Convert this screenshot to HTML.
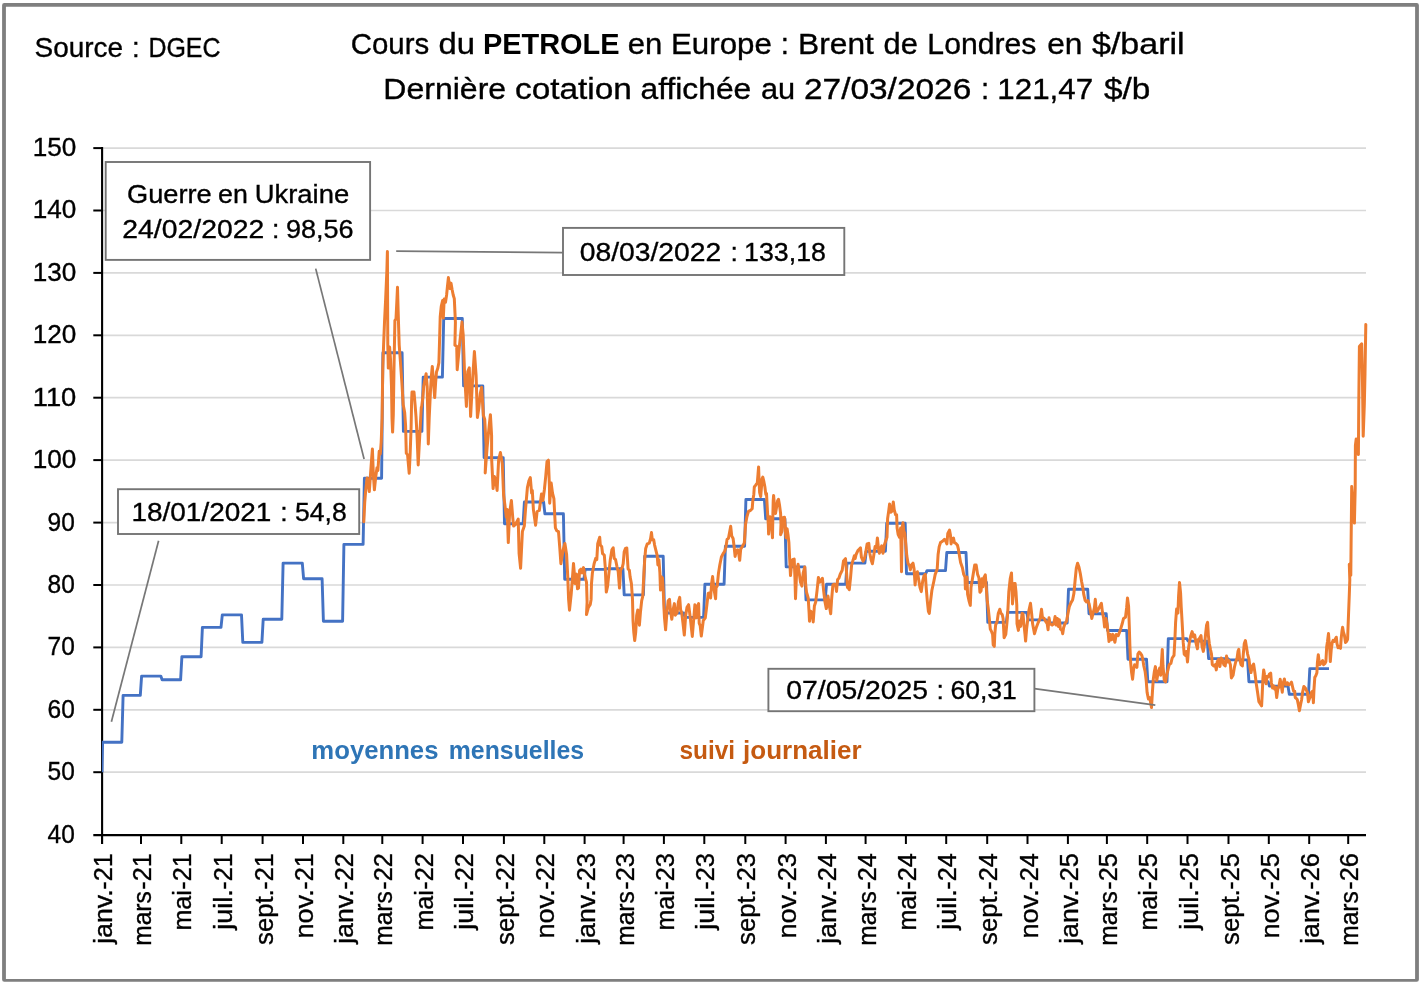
<!DOCTYPE html>
<html lang="fr"><head><meta charset="utf-8"><title>Cours du PETROLE en Europe : Brent de Londres</title>
<style>html,body{margin:0;padding:0;background:#fff;}svg{display:block;}text{font-family:"Liberation Sans",sans-serif;fill:#000;stroke:#000;stroke-width:0.35px;}text[font-weight=bold]{stroke:none;}</style></head><body>
<svg width="1421" height="983" viewBox="0 0 1421 983">
<rect x="0" y="0" width="1421" height="983" fill="#fff"/>
<path fill="#7f7f7f" fill-rule="evenodd" d="M4.3,3 H1416.7 A2.2,2.2 0 0 1 1418.9,5.2 V979.5 A2.2,2.2 0 0 1 1416.7,981.7 H4.3 A2.2,2.2 0 0 1 2.1,979.5 V5.2 A2.2,2.2 0 0 1 4.3,3 Z M5.9,6.8 V979.1 H1415.1 V6.8 Z"/>
<line x1="102" x2="1366" y1="772.2" y2="772.2" stroke="#d9d9d9" stroke-width="1.7"/>
<line x1="102" x2="1366" y1="709.8" y2="709.8" stroke="#d9d9d9" stroke-width="1.7"/>
<line x1="102" x2="1366" y1="647.4" y2="647.4" stroke="#d9d9d9" stroke-width="1.7"/>
<line x1="102" x2="1366" y1="585.0" y2="585.0" stroke="#d9d9d9" stroke-width="1.7"/>
<line x1="102" x2="1366" y1="522.6" y2="522.6" stroke="#d9d9d9" stroke-width="1.7"/>
<line x1="102" x2="1366" y1="460.1" y2="460.1" stroke="#d9d9d9" stroke-width="1.7"/>
<line x1="102" x2="1366" y1="397.7" y2="397.7" stroke="#d9d9d9" stroke-width="1.7"/>
<line x1="102" x2="1366" y1="335.3" y2="335.3" stroke="#d9d9d9" stroke-width="1.7"/>
<line x1="102" x2="1366" y1="272.9" y2="272.9" stroke="#d9d9d9" stroke-width="1.7"/>
<line x1="102" x2="1366" y1="210.5" y2="210.5" stroke="#d9d9d9" stroke-width="1.7"/>
<line x1="102" x2="1366" y1="148.1" y2="148.1" stroke="#d9d9d9" stroke-width="1.7"/>
<line x1="102.1" x2="102.1" y1="147.1" y2="844" stroke="#000" stroke-width="2.1"/>
<line x1="93.3" x2="1366" y1="835.1" y2="835.1" stroke="#000" stroke-width="2.1"/>
<line x1="93.3" x2="102" y1="772.2" y2="772.2" stroke="#000" stroke-width="2"/>
<line x1="93.3" x2="102" y1="709.8" y2="709.8" stroke="#000" stroke-width="2"/>
<line x1="93.3" x2="102" y1="647.4" y2="647.4" stroke="#000" stroke-width="2"/>
<line x1="93.3" x2="102" y1="585.0" y2="585.0" stroke="#000" stroke-width="2"/>
<line x1="93.3" x2="102" y1="522.6" y2="522.6" stroke="#000" stroke-width="2"/>
<line x1="93.3" x2="102" y1="460.1" y2="460.1" stroke="#000" stroke-width="2"/>
<line x1="93.3" x2="102" y1="397.7" y2="397.7" stroke="#000" stroke-width="2"/>
<line x1="93.3" x2="102" y1="335.3" y2="335.3" stroke="#000" stroke-width="2"/>
<line x1="93.3" x2="102" y1="272.9" y2="272.9" stroke="#000" stroke-width="2"/>
<line x1="93.3" x2="102" y1="210.5" y2="210.5" stroke="#000" stroke-width="2"/>
<line x1="93.3" x2="102" y1="148.1" y2="148.1" stroke="#000" stroke-width="2"/>
<clipPath id="plot"><rect x="101.9" y="140" width="1265.6" height="700"/></clipPath>
<polyline clip-path="url(#plot)" points="102.0,772.2 102.6,742.2 121.8,742.2 123.1,695.4 140.3,695.4 141.6,676.1 160.8,676.1 162.1,679.8 180.6,679.8 181.9,656.7 201.1,656.7 202.4,627.4 221.0,627.4 222.3,614.9 241.5,614.9 242.8,642.4 261.9,642.4 263.2,619.3 281.8,619.3 283.1,563.1 302.3,563.1 303.6,578.7 322.1,578.7 323.4,621.2 342.6,621.2 343.9,544.4 363.1,544.4 364.4,478.2 381.6,478.2 382.9,352.8 402.1,352.8 403.4,431.4 421.9,431.4 423.2,377.1 442.4,377.1 443.7,318.5 462.3,318.5 463.6,385.9 482.8,385.9 484.1,457.6 503.2,457.6 504.5,523.8 523.1,523.8 524.4,502.0 543.6,502.0 544.9,513.8 563.4,513.8 564.7,579.3 583.9,579.3 585.2,569.4 604.4,569.4 605.7,568.7 622.9,568.7 624.2,594.9 643.4,594.9 644.7,556.3 663.2,556.3 664.5,613.0 683.7,613.0 685.0,617.4 703.6,617.4 704.9,584.3 724.1,584.3 725.4,546.3 744.6,546.3 745.9,499.5 764.4,499.5 765.7,518.8 784.9,518.8 786.2,566.9 804.7,566.9 806.0,599.9 825.2,599.9 826.5,584.3 845.7,584.3 847.0,563.1 864.9,563.1 866.2,551.3 885.4,551.3 886.7,523.2 905.2,523.2 906.5,573.7 925.7,573.7 927.0,570.6 945.5,570.6 946.8,552.5 966.0,552.5 967.3,582.5 986.5,582.5 987.8,622.4 1006.3,622.4 1007.6,612.4 1026.8,612.4 1028.1,619.9 1046.7,619.9 1048.0,623.0 1067.2,623.0 1068.5,589.3 1087.7,589.3 1089.0,613.7 1106.2,613.7 1107.5,630.5 1126.7,630.5 1128.0,659.2 1146.5,659.2 1147.8,681.7 1167.0,681.7 1168.3,638.6 1186.8,638.6 1188.1,641.1 1207.3,641.1 1208.6,658.6 1227.8,658.6 1229.1,659.9 1247.6,659.9 1248.9,681.7 1268.1,681.7 1269.4,686.1 1288.0,686.1 1289.3,694.2 1308.5,694.2 1309.8,668.6 1329.0,668.6" fill="none" stroke="#4472c4" stroke-width="2.9" stroke-linejoin="round"/>
<polyline points="363.8,521.8 364.7,502.6 365.6,491.6 367.1,477.9 368.2,481.5 369.3,491.6 370.6,473.3 371.5,460.5 372.4,449.1 373.3,473.3 374.4,489.8 375.7,477.0 377.0,467.8 377.9,470.5 379.2,451.3 380.3,454.0 381.2,442.1 382.1,418.3 382.5,386.6 382.8,368.3 383.6,345.0 384.5,322.4 385.6,300.1 386.9,270.0 387.4,251.5 387.6,300.1 387.8,345.0 388.3,368.1 389.6,347.0 390.5,359.1 391.5,386.6 392.0,418.3 392.6,432.1 393.3,414.7 394.0,368.3 394.9,320.6 396.0,318.8 396.8,302.3 397.5,287.3 398.1,309.6 398.6,326.1 399.2,345.0 400.3,360.0 401.9,382.9 403.2,404.9 403.7,407.3 404.7,412.8 405.6,425.7 406.3,453.1 407.6,455.0 409.2,473.3 410.1,455.0 411.1,427.5 411.6,401.2 412.0,392.1 414.0,392.1 415.1,404.9 416.0,416.5 417.1,436.6 418.2,465.0 419.1,447.6 420.2,427.5 421.3,407.3 421.7,406.7 422.8,397.6 423.7,386.6 425.0,379.2 426.1,373.7 427.2,386.6 428.3,444.0 429.2,418.3 430.5,390.2 431.4,375.6 432.3,366.4 433.4,381.1 434.7,397.6 435.6,382.9 436.5,371.9 437.8,368.3 438.9,362.8 439.5,342.6 440.2,317.0 441.3,306.0 442.6,300.5 443.3,318.1 444.2,299.0 444.4,299.5 445.5,302.3 446.6,295.0 447.5,285.8 448.4,277.6 449.2,284.0 449.9,288.6 451.0,283.1 452.1,289.5 453.2,295.0 454.3,298.6 455.0,313.3 455.4,322.4 454.9,345.3 456.7,346.3 457.2,369.8 459.6,344.1 462.0,322.1 463.2,335.0 464.5,371.6 466.4,406.4 467.8,371.6 469.3,367.9 470.6,416.5 472.4,382.6 474.4,351.5 476.1,375.3 477.4,417.4 478.8,408.3 480.3,393.6 481.6,387.2 483.4,415.6 484.7,419.2 486.1,444.9 485.2,473.0 487.1,447.3 489.1,426.6 490.4,414.7 491.6,435.7 491.6,458.3 493.1,488.6 494.4,476.6 495.7,479.4 497.1,490.4 498.6,460.2 500.4,452.5 502.3,463.8 503.6,495.0 504.8,504.1 506.3,517.0 507.2,509.6 508.3,542.6 509.6,513.3 511.4,500.5 512.7,517.0 513.6,526.1 515.5,524.3 518.2,519.1 519.1,553.6 520.6,568.3 522.4,531.6 524.3,526.1 525.5,509.6 527.4,487.6 528.8,481.2 530.3,477.6 531.6,493.1 532.3,490.4 533.4,509.6 535.6,525.2 537.1,511.5 539.3,510.5 541.5,494.0 542.9,500.5 544.4,489.5 545.7,476.6 547.0,461.6 548.4,460.2 549.4,485.8 549.7,503.2 551.2,483.1 552.5,493.1 553.9,498.6 555.4,527.9 556.7,530.7 558.5,531.6 559.8,548.1 560.9,563.7 563.1,549.9 564.9,543.5 566.6,554.4 567.7,575.6 568.6,599.4 569.5,610.2 571.2,594.1 572.6,575.6 573.5,563.4 574.3,572.9 574.8,583.5 575.6,575.6 576.5,574.2 577.5,588.8 578.5,588.1 579.6,570.3 580.9,569.2 582.2,572.9 583.5,567.6 584.5,572.9 585.4,578.2 586.5,582.2 587.1,602.0 586.5,614.6 588.4,607.3 590.2,604.7 591.1,599.4 591.5,583.5 592.4,572.9 594.1,563.7 595.7,558.4 596.8,559.7 597.7,543.8 599.7,537.2 600.3,545.1 601.7,546.5 602.6,553.7 604.3,555.1 605.2,566.3 606.3,592.1 607.6,586.1 609.2,570.3 610.3,559.7 611.9,549.8 613.2,547.8 614.2,558.4 615.6,559.7 616.9,566.3 618.2,571.6 619.5,588.1 620.6,570.3 622.2,567.6 623.2,563.7 624.2,551.7 625.5,548.4 626.8,548.0 627.5,559.7 628.1,568.9 629.4,570.3 630.1,576.9 631.4,583.5 632.5,599.4 633.0,620.5 633.8,632.4 634.7,640.6 635.7,632.4 636.7,615.2 637.8,609.9 638.7,617.9 639.4,625.2 640.4,612.6 641.7,600.7 642.7,596.7 643.6,579.5 644.7,559.7 645.7,548.4 647.3,543.8 649.3,543.1 650.6,538.5 651.5,532.6 652.3,539.8 653.7,539.8 654.6,545.1 655.9,550.4 657.2,555.7 657.9,565.0 658.9,559.7 659.9,572.9 660.5,590.1 661.6,576.9 662.5,578.2 663.2,588.8 663.8,604.7 664.5,617.9 665.6,629.8 666.9,612.6 668.2,600.7 669.5,599.4 670.4,609.9 671.8,619.2 673.1,609.9 674.4,603.6 675.3,615.2 677.1,612.6 678.4,602.0 679.7,597.4 680.6,609.9 681.7,612.6 683.0,623.2 684.3,635.1 685.7,615.2 687.0,607.3 688.6,604.7 690.3,617.9 692.3,636.4 693.6,620.5 694.9,604.7 696.0,617.9 697.6,606.0 698.6,603.6 699.2,623.2 700.2,625.8 701.3,636.1 703.3,620.5 705.3,617.9 706.9,604.7 708.2,593.4 709.5,592.8 710.6,598.0 711.6,583.5 712.6,576.6 713.9,588.8 715.6,598.7 716.1,587.5 717.2,586.1 718.5,572.9 719.8,565.0 721.4,557.0 723.1,553.7 724.5,551.7 725.8,547.8 727.1,539.2 728.4,538.5 729.4,533.2 730.7,526.3 731.7,535.9 733.1,538.5 734.1,546.5 735.1,556.4 736.4,550.4 737.7,549.8 738.6,553.1 739.7,560.3 740.7,549.1 742.3,546.5 744.3,543.1 745.0,533.2 745.6,524.0 746.9,516.7 748.5,511.4 750.6,510.3 752.2,508.7 752.8,500.8 753.8,494.4 754.3,487.0 755.9,484.9 757.3,482.8 758.0,474.3 758.6,466.9 759.1,481.7 759.6,492.3 760.7,496.6 761.5,487.0 762.1,478.6 762.8,477.0 763.9,481.7 764.9,487.0 765.8,494.4 766.5,493.4 767.0,502.9 767.6,513.5 768.3,524.1 768.6,534.1 769.2,524.1 770.0,516.7 770.7,518.8 771.8,529.4 772.5,537.8 772.9,513.5 773.2,500.8 773.6,495.5 774.4,505.0 775.5,513.5 776.6,507.1 777.6,500.8 778.5,499.2 779.5,505.0 780.6,513.5 781.0,524.1 780.6,534.7 781.9,531.5 782.4,524.1 782.9,517.7 784.5,517.2 785.0,524.1 785.6,533.6 786.1,537.8 787.1,528.8 788.0,534.7 788.9,542.5 789.7,559.7 790.5,575.6 791.5,565.0 792.6,559.7 794.2,559.0 795.0,579.5 795.5,598.7 796.6,572.9 798.1,564.3 799.2,572.9 800.5,582.2 801.9,586.1 803.2,572.9 804.8,567.0 805.6,583.5 806.5,592.1 808.2,598.0 809.1,612.6 809.5,621.2 810.8,611.3 812.2,612.6 813.2,621.9 814.4,606.0 815.7,602.0 817.1,590.1 818.4,577.5 819.7,582.2 821.0,580.8 822.4,578.2 823.7,591.4 825.0,602.0 826.3,608.6 827.2,604.7 828.0,596.1 829.4,606.0 830.7,613.7 831.6,599.4 832.9,584.8 834.3,584.2 835.6,584.8 836.5,591.4 837.6,579.5 838.9,578.2 840.2,574.2 842.2,570.3 843.5,561.0 845.5,558.6 846.6,572.9 847.5,587.5 847.3,586.3 849.3,589.6 850.6,577.0 851.6,565.1 853.2,559.8 854.3,555.8 855.2,558.5 856.1,554.5 857.9,550.6 859.2,549.2 860.5,547.9 861.4,557.2 863.1,561.1 864.5,558.5 865.8,551.9 867.1,543.9 868.8,543.3 869.8,553.2 871.1,559.8 872.4,563.8 873.7,555.8 875.1,546.6 876.4,547.9 877.4,538.0 878.4,547.9 879.4,553.2 880.3,549.2 881.7,545.9 883.0,553.2 884.3,545.3 885.6,541.3 887.0,537.3 887.6,518.8 888.7,510.9 889.6,504.0 890.9,512.2 892.2,510.9 893.3,501.9 894.2,509.6 895.6,514.8 896.6,514.8 897.1,528.1 898.2,534.7 899.5,537.3 900.6,528.1 901.1,547.9 901.5,571.7 901.9,547.9 902.2,528.1 903.0,522.8 903.8,530.7 904.8,533.4 905.9,545.3 906.8,555.8 908.1,563.8 909.4,565.1 910.4,569.7 911.4,565.1 913.0,563.1 914.1,569.1 915.1,584.9 916.1,574.4 917.4,571.7 918.7,579.7 920.0,587.6 921.3,591.6 922.7,581.0 924.0,575.7 925.3,574.4 926.2,587.6 927.3,600.8 928.4,611.4 929.3,613.4 930.6,600.8 931.9,590.2 933.9,581.0 935.2,574.4 937.2,569.1 938.1,554.5 939.2,546.6 940.5,542.6 942.5,541.3 944.5,539.3 945.8,541.3 946.9,543.9 947.8,533.4 949.5,530.1 950.4,534.7 951.1,543.9 952.4,538.7 953.5,538.0 954.4,542.6 955.7,543.3 957.5,545.3 958.4,549.2 959.7,557.2 960.6,562.5 962.4,567.8 963.7,574.4 965.0,577.0 965.4,588.9 966.3,579.7 967.0,577.0 967.6,594.2 969.0,600.8 970.3,605.4 971.0,587.6 972.3,579.7 973.6,571.7 974.7,565.1 976.2,565.1 977.6,574.4 978.9,577.7 979.9,592.2 981.1,590.7 982.0,578.8 982.9,586.7 984.0,577.5 985.3,574.8 986.3,588.1 987.3,601.3 988.2,607.9 989.3,618.5 990.3,629.1 991.6,631.7 992.6,634.4 993.2,644.9 994.3,646.3 994.8,634.4 995.6,625.1 997.2,621.1 998.3,613.2 999.8,609.2 1000.9,613.2 1002.2,614.5 1003.1,618.5 1004.1,637.7 1005.8,634.4 1007.1,621.1 1008.0,607.9 1008.8,592.0 1010.2,578.8 1011.5,572.9 1012.0,588.1 1012.5,603.9 1013.3,594.7 1014.1,583.4 1015.1,583.4 1016.0,592.0 1016.8,605.3 1017.0,623.8 1018.4,630.4 1019.4,621.1 1020.7,626.4 1022.1,613.2 1023.0,613.9 1023.9,623.8 1025.0,634.4 1025.6,641.0 1026.6,629.1 1027.9,618.5 1028.9,610.6 1030.5,603.3 1031.6,613.2 1032.6,623.8 1034.5,633.7 1036.2,627.8 1038.2,622.5 1040.2,618.5 1041.5,609.2 1042.4,617.2 1044.2,618.5 1045.5,621.1 1047.2,623.8 1048.1,629.7 1049.0,617.8 1050.1,623.8 1052.1,625.1 1053.8,623.8 1055.1,616.5 1056.1,625.1 1057.4,618.5 1058.3,626.4 1059.4,619.8 1060.4,629.1 1062.0,630.4 1062.7,633.7 1063.6,627.8 1064.9,623.8 1066.6,621.1 1068.0,613.2 1069.3,606.6 1071.0,602.6 1072.6,600.0 1073.9,593.4 1075.0,581.5 1076.3,568.2 1077.6,563.2 1078.9,566.9 1080.3,573.5 1081.6,581.5 1082.9,588.1 1083.8,594.7 1085.2,600.6 1086.5,602.0 1087.8,600.6 1089.1,603.9 1090.4,610.6 1091.8,618.5 1093.1,613.2 1094.4,607.9 1095.3,599.3 1096.4,611.9 1097.7,610.6 1099.7,606.6 1101.4,603.3 1102.4,611.9 1103.7,618.5 1104.6,627.1 1105.9,618.5 1107.0,623.8 1108.0,631.7 1109.0,641.6 1110.3,634.4 1111.6,639.7 1112.9,634.4 1114.9,642.3 1116.2,634.4 1118.2,635.7 1120.2,630.4 1122.2,623.8 1123.5,618.5 1125.5,617.2 1126.6,607.9 1127.5,598.0 1128.6,606.5 1129.3,626.3 1129.9,646.1 1130.6,662.0 1131.6,672.6 1132.6,679.2 1133.5,669.9 1134.6,664.7 1135.9,666.0 1136.9,667.3 1137.9,654.1 1139.2,652.1 1140.5,653.4 1141.8,655.4 1142.8,659.4 1143.8,666.0 1145.1,671.3 1146.2,680.5 1147.1,692.4 1148.4,699.0 1149.8,697.7 1150.7,703.0 1151.5,707.6 1152.4,692.4 1153.3,679.2 1154.4,671.3 1155.4,666.6 1156.0,672.6 1156.8,680.5 1158.1,672.6 1159.7,668.0 1160.7,675.2 1161.3,664.7 1162.3,649.4 1163.0,666.0 1164.3,680.5 1165.6,681.9 1166.6,675.2 1167.6,671.3 1169.2,664.7 1170.9,663.3 1172.2,658.0 1174.0,655.4 1174.9,639.5 1175.6,622.3 1176.6,609.1 1177.9,613.1 1178.6,595.9 1179.5,582.4 1180.6,593.2 1181.2,606.5 1182.2,623.7 1183.2,642.2 1184.2,654.1 1185.5,655.4 1186.4,651.4 1187.5,662.0 1188.5,648.8 1189.4,642.2 1190.8,635.6 1192.1,631.6 1193.4,636.9 1194.7,634.9 1196.1,643.5 1197.4,648.8 1198.3,639.5 1199.6,638.2 1201.0,635.6 1202.0,646.1 1203.3,651.4 1204.7,643.5 1205.7,632.9 1206.6,625.0 1207.6,622.3 1208.4,635.6 1209.3,643.5 1210.6,650.1 1211.5,654.1 1212.3,664.7 1213.9,666.0 1215.2,664.7 1216.3,669.9 1217.2,662.0 1218.5,659.4 1219.9,666.6 1221.2,658.0 1222.5,659.4 1223.8,664.7 1225.2,666.0 1226.5,656.1 1227.8,662.0 1229.1,660.7 1230.4,664.7 1231.4,677.9 1233.1,675.2 1234.4,667.3 1235.7,662.0 1237.1,658.0 1238.0,651.4 1238.8,649.4 1239.7,659.4 1241.0,664.7 1242.4,666.0 1243.3,654.1 1244.3,643.5 1245.4,640.6 1246.3,646.1 1247.6,654.1 1249.0,659.4 1249.9,667.3 1251.0,672.6 1252.3,666.0 1253.6,664.0 1254.9,672.6 1256.2,683.2 1257.6,692.4 1258.9,701.7 1260.2,703.7 1261.6,705.8 1262.2,694.4 1262.9,678.5 1263.7,670.0 1264.5,674.3 1265.6,678.5 1266.1,683.8 1266.9,676.4 1268.2,676.9 1269.3,674.3 1270.7,673.2 1271.4,682.7 1272.5,688.0 1273.5,685.9 1274.6,689.1 1275.6,687.0 1276.7,697.5 1277.8,689.1 1278.8,687.0 1280.2,679.3 1280.9,683.8 1282.3,692.2 1283.0,683.8 1284.4,679.0 1285.2,683.8 1286.2,684.8 1287.3,682.7 1288.9,684.8 1290.4,683.8 1291.5,682.2 1292.6,687.0 1293.6,691.2 1294.7,691.2 1295.2,697.5 1296.5,698.6 1297.3,699.7 1298.4,704.9 1299.4,710.8 1300.5,704.9 1301.6,699.7 1302.6,692.2 1303.9,686.4 1305.3,688.0 1306.3,690.1 1307.4,692.2 1308.4,701.8 1309.5,698.6 1310.6,696.5 1311.6,692.2 1312.7,691.2 1313.4,702.8 1314.0,689.1 1314.8,677.4 1315.8,675.8 1316.9,672.7 1317.4,662.6 1318.3,654.7 1319.0,660.5 1319.8,664.7 1320.6,663.7 1321.7,661.6 1322.7,660.5 1323.6,664.7 1324.8,663.7 1325.9,661.6 1326.7,646.7 1327.5,641.5 1328.5,633.5 1329.1,641.5 1329.9,652.0 1330.3,661.6 1331.2,649.9 1332.2,642.5 1333.1,640.4 1334.2,641.5 1335.2,639.3 1336.3,637.2 1337.0,643.6 1338.1,647.8 1339.1,646.7 1340.5,648.3 1341.2,638.3 1342.0,630.9 1342.6,627.2 1343.4,631.9 1344.4,635.1 1345.5,642.5 1346.5,641.5 1347.6,639.3 1348.1,625.6 1349.3,594.5 1349.8,580.0 1349.3,564.3 1350.8,575.3 1351.1,543.0 1351.5,506.6 1351.7,486.5 1353.0,506.6 1354.4,523.1 1355.2,488.0 1355.4,445.5 1356.2,439.0 1357.5,441.8 1358.4,454.6 1358.8,401.5 1359.4,346.6 1359.9,345.7 1361.7,343.9 1362.5,383.2 1363.2,436.3 1364.3,405.2 1365.0,374.0 1365.8,324.6" fill="none" stroke="#ed7d31" stroke-width="3.0" stroke-linejoin="round" stroke-linecap="round"/>
<text x="47.52" y="842.5" font-size="25" textLength="27.28" lengthAdjust="spacingAndGlyphs">40</text>
<text x="47.52" y="780.1" font-size="25" textLength="27.28" lengthAdjust="spacingAndGlyphs">50</text>
<text x="47.52" y="717.7" font-size="25" textLength="27.28" lengthAdjust="spacingAndGlyphs">60</text>
<text x="47.52" y="655.3" font-size="25" textLength="27.28" lengthAdjust="spacingAndGlyphs">70</text>
<text x="47.52" y="592.9" font-size="25" textLength="27.28" lengthAdjust="spacingAndGlyphs">80</text>
<text x="47.52" y="530.5" font-size="25" textLength="27.28" lengthAdjust="spacingAndGlyphs">90</text>
<text x="32.72" y="468.0" font-size="25" textLength="43.61" lengthAdjust="spacingAndGlyphs">100</text>
<text x="32.72" y="405.6" font-size="25" textLength="43.61" lengthAdjust="spacingAndGlyphs">110</text>
<text x="32.72" y="343.2" font-size="25" textLength="43.61" lengthAdjust="spacingAndGlyphs">120</text>
<text x="32.72" y="280.8" font-size="25" textLength="43.61" lengthAdjust="spacingAndGlyphs">130</text>
<text x="32.72" y="218.4" font-size="25" textLength="43.61" lengthAdjust="spacingAndGlyphs">140</text>
<text x="32.72" y="156.0" font-size="25" textLength="43.61" lengthAdjust="spacingAndGlyphs">150</text>
<line x1="102.0" x2="102.0" y1="835" y2="844" stroke="#000" stroke-width="2"/>
<text transform="translate(112.1,0) rotate(-90)" font-size="25" text-anchor="end"><tspan x="-889.32" textLength="54.56" lengthAdjust="spacingAndGlyphs">janv.</tspan><tspan x="-853.22" textLength="36.58" lengthAdjust="spacingAndGlyphs">-21</tspan></text>
<line x1="141.0" x2="141.0" y1="835" y2="844" stroke="#000" stroke-width="2"/>
<text transform="translate(151.1,0) rotate(-90)" font-size="25" text-anchor="end"><tspan x="-891.12" textLength="54.72" lengthAdjust="spacingAndGlyphs">mars</tspan><tspan x="-853.22" textLength="36.58" lengthAdjust="spacingAndGlyphs">-21</tspan></text>
<line x1="181.3" x2="181.3" y1="835" y2="844" stroke="#000" stroke-width="2"/>
<text transform="translate(191.4,0) rotate(-90)" font-size="25" text-anchor="end"><tspan x="-890.22" textLength="40.39" lengthAdjust="spacingAndGlyphs">mai</tspan><tspan x="-853.22" textLength="36.58" lengthAdjust="spacingAndGlyphs">-21</tspan></text>
<line x1="221.7" x2="221.7" y1="835" y2="844" stroke="#000" stroke-width="2"/>
<text transform="translate(231.8,0) rotate(-90)" font-size="25" text-anchor="end"><tspan x="-889.32" textLength="40.56" lengthAdjust="spacingAndGlyphs">juil.</tspan><tspan x="-853.22" textLength="36.58" lengthAdjust="spacingAndGlyphs">-21</tspan></text>
<line x1="262.6" x2="262.6" y1="835" y2="844" stroke="#000" stroke-width="2"/>
<text transform="translate(272.7,0) rotate(-90)" font-size="25" text-anchor="end"><tspan x="-889.32" textLength="55.59" lengthAdjust="spacingAndGlyphs">sept.</tspan><tspan x="-853.22" textLength="36.58" lengthAdjust="spacingAndGlyphs">-21</tspan></text>
<line x1="303.0" x2="303.0" y1="835" y2="844" stroke="#000" stroke-width="2"/>
<text transform="translate(313.1,0) rotate(-90)" font-size="25" text-anchor="end"><tspan x="-889.32" textLength="49.22" lengthAdjust="spacingAndGlyphs">nov.</tspan><tspan x="-853.22" textLength="36.58" lengthAdjust="spacingAndGlyphs">-21</tspan></text>
<line x1="343.3" x2="343.3" y1="835" y2="844" stroke="#000" stroke-width="2"/>
<text transform="translate(353.4,0) rotate(-90)" font-size="25" text-anchor="end"><tspan x="-889.32" textLength="54.56" lengthAdjust="spacingAndGlyphs">janv.</tspan><tspan x="-853.22" textLength="36.58" lengthAdjust="spacingAndGlyphs">-22</tspan></text>
<line x1="382.3" x2="382.3" y1="835" y2="844" stroke="#000" stroke-width="2"/>
<text transform="translate(392.4,0) rotate(-90)" font-size="25" text-anchor="end"><tspan x="-891.12" textLength="54.72" lengthAdjust="spacingAndGlyphs">mars</tspan><tspan x="-853.22" textLength="36.58" lengthAdjust="spacingAndGlyphs">-22</tspan></text>
<line x1="422.6" x2="422.6" y1="835" y2="844" stroke="#000" stroke-width="2"/>
<text transform="translate(432.7,0) rotate(-90)" font-size="25" text-anchor="end"><tspan x="-890.22" textLength="40.39" lengthAdjust="spacingAndGlyphs">mai</tspan><tspan x="-853.22" textLength="36.58" lengthAdjust="spacingAndGlyphs">-22</tspan></text>
<line x1="463.0" x2="463.0" y1="835" y2="844" stroke="#000" stroke-width="2"/>
<text transform="translate(473.1,0) rotate(-90)" font-size="25" text-anchor="end"><tspan x="-889.32" textLength="40.56" lengthAdjust="spacingAndGlyphs">juil.</tspan><tspan x="-853.22" textLength="36.58" lengthAdjust="spacingAndGlyphs">-22</tspan></text>
<line x1="503.9" x2="503.9" y1="835" y2="844" stroke="#000" stroke-width="2"/>
<text transform="translate(514.0,0) rotate(-90)" font-size="25" text-anchor="end"><tspan x="-889.32" textLength="55.59" lengthAdjust="spacingAndGlyphs">sept.</tspan><tspan x="-853.22" textLength="36.58" lengthAdjust="spacingAndGlyphs">-22</tspan></text>
<line x1="544.3" x2="544.3" y1="835" y2="844" stroke="#000" stroke-width="2"/>
<text transform="translate(554.4,0) rotate(-90)" font-size="25" text-anchor="end"><tspan x="-889.32" textLength="49.22" lengthAdjust="spacingAndGlyphs">nov.</tspan><tspan x="-853.22" textLength="36.58" lengthAdjust="spacingAndGlyphs">-22</tspan></text>
<line x1="584.6" x2="584.6" y1="835" y2="844" stroke="#000" stroke-width="2"/>
<text transform="translate(594.7,0) rotate(-90)" font-size="25" text-anchor="end"><tspan x="-889.32" textLength="54.56" lengthAdjust="spacingAndGlyphs">janv.</tspan><tspan x="-853.22" textLength="36.58" lengthAdjust="spacingAndGlyphs">-23</tspan></text>
<line x1="623.6" x2="623.6" y1="835" y2="844" stroke="#000" stroke-width="2"/>
<text transform="translate(633.7,0) rotate(-90)" font-size="25" text-anchor="end"><tspan x="-891.12" textLength="54.72" lengthAdjust="spacingAndGlyphs">mars</tspan><tspan x="-853.22" textLength="36.58" lengthAdjust="spacingAndGlyphs">-23</tspan></text>
<line x1="663.9" x2="663.9" y1="835" y2="844" stroke="#000" stroke-width="2"/>
<text transform="translate(674.0,0) rotate(-90)" font-size="25" text-anchor="end"><tspan x="-890.22" textLength="40.39" lengthAdjust="spacingAndGlyphs">mai</tspan><tspan x="-853.22" textLength="36.58" lengthAdjust="spacingAndGlyphs">-23</tspan></text>
<line x1="704.3" x2="704.3" y1="835" y2="844" stroke="#000" stroke-width="2"/>
<text transform="translate(714.4,0) rotate(-90)" font-size="25" text-anchor="end"><tspan x="-889.32" textLength="40.56" lengthAdjust="spacingAndGlyphs">juil.</tspan><tspan x="-853.22" textLength="36.58" lengthAdjust="spacingAndGlyphs">-23</tspan></text>
<line x1="745.3" x2="745.3" y1="835" y2="844" stroke="#000" stroke-width="2"/>
<text transform="translate(755.4,0) rotate(-90)" font-size="25" text-anchor="end"><tspan x="-889.32" textLength="55.59" lengthAdjust="spacingAndGlyphs">sept.</tspan><tspan x="-853.22" textLength="36.58" lengthAdjust="spacingAndGlyphs">-23</tspan></text>
<line x1="785.6" x2="785.6" y1="835" y2="844" stroke="#000" stroke-width="2"/>
<text transform="translate(795.7,0) rotate(-90)" font-size="25" text-anchor="end"><tspan x="-889.32" textLength="49.22" lengthAdjust="spacingAndGlyphs">nov.</tspan><tspan x="-853.22" textLength="36.58" lengthAdjust="spacingAndGlyphs">-23</tspan></text>
<line x1="825.9" x2="825.9" y1="835" y2="844" stroke="#000" stroke-width="2"/>
<text transform="translate(836.0,0) rotate(-90)" font-size="25" text-anchor="end"><tspan x="-889.32" textLength="54.56" lengthAdjust="spacingAndGlyphs">janv.</tspan><tspan x="-853.22" textLength="36.58" lengthAdjust="spacingAndGlyphs">-24</tspan></text>
<line x1="865.6" x2="865.6" y1="835" y2="844" stroke="#000" stroke-width="2"/>
<text transform="translate(875.7,0) rotate(-90)" font-size="25" text-anchor="end"><tspan x="-891.12" textLength="54.72" lengthAdjust="spacingAndGlyphs">mars</tspan><tspan x="-853.22" textLength="36.58" lengthAdjust="spacingAndGlyphs">-24</tspan></text>
<line x1="905.9" x2="905.9" y1="835" y2="844" stroke="#000" stroke-width="2"/>
<text transform="translate(916.0,0) rotate(-90)" font-size="25" text-anchor="end"><tspan x="-890.22" textLength="40.39" lengthAdjust="spacingAndGlyphs">mai</tspan><tspan x="-853.22" textLength="36.58" lengthAdjust="spacingAndGlyphs">-24</tspan></text>
<line x1="946.2" x2="946.2" y1="835" y2="844" stroke="#000" stroke-width="2"/>
<text transform="translate(956.3,0) rotate(-90)" font-size="25" text-anchor="end"><tspan x="-889.32" textLength="40.56" lengthAdjust="spacingAndGlyphs">juil.</tspan><tspan x="-853.22" textLength="36.58" lengthAdjust="spacingAndGlyphs">-24</tspan></text>
<line x1="987.2" x2="987.2" y1="835" y2="844" stroke="#000" stroke-width="2"/>
<text transform="translate(997.3,0) rotate(-90)" font-size="25" text-anchor="end"><tspan x="-889.32" textLength="55.59" lengthAdjust="spacingAndGlyphs">sept.</tspan><tspan x="-853.22" textLength="36.58" lengthAdjust="spacingAndGlyphs">-24</tspan></text>
<line x1="1027.5" x2="1027.5" y1="835" y2="844" stroke="#000" stroke-width="2"/>
<text transform="translate(1037.6,0) rotate(-90)" font-size="25" text-anchor="end"><tspan x="-889.32" textLength="49.22" lengthAdjust="spacingAndGlyphs">nov.</tspan><tspan x="-853.22" textLength="36.58" lengthAdjust="spacingAndGlyphs">-24</tspan></text>
<line x1="1067.9" x2="1067.9" y1="835" y2="844" stroke="#000" stroke-width="2"/>
<text transform="translate(1078.0,0) rotate(-90)" font-size="25" text-anchor="end"><tspan x="-889.32" textLength="54.56" lengthAdjust="spacingAndGlyphs">janv.</tspan><tspan x="-853.22" textLength="36.58" lengthAdjust="spacingAndGlyphs">-25</tspan></text>
<line x1="1106.9" x2="1106.9" y1="835" y2="844" stroke="#000" stroke-width="2"/>
<text transform="translate(1117.0,0) rotate(-90)" font-size="25" text-anchor="end"><tspan x="-891.12" textLength="54.72" lengthAdjust="spacingAndGlyphs">mars</tspan><tspan x="-853.22" textLength="36.58" lengthAdjust="spacingAndGlyphs">-25</tspan></text>
<line x1="1147.2" x2="1147.2" y1="835" y2="844" stroke="#000" stroke-width="2"/>
<text transform="translate(1157.3,0) rotate(-90)" font-size="25" text-anchor="end"><tspan x="-890.22" textLength="40.39" lengthAdjust="spacingAndGlyphs">mai</tspan><tspan x="-853.22" textLength="36.58" lengthAdjust="spacingAndGlyphs">-25</tspan></text>
<line x1="1187.5" x2="1187.5" y1="835" y2="844" stroke="#000" stroke-width="2"/>
<text transform="translate(1197.6,0) rotate(-90)" font-size="25" text-anchor="end"><tspan x="-889.32" textLength="40.56" lengthAdjust="spacingAndGlyphs">juil.</tspan><tspan x="-853.22" textLength="36.58" lengthAdjust="spacingAndGlyphs">-25</tspan></text>
<line x1="1228.5" x2="1228.5" y1="835" y2="844" stroke="#000" stroke-width="2"/>
<text transform="translate(1238.6,0) rotate(-90)" font-size="25" text-anchor="end"><tspan x="-889.32" textLength="55.59" lengthAdjust="spacingAndGlyphs">sept.</tspan><tspan x="-853.22" textLength="36.58" lengthAdjust="spacingAndGlyphs">-25</tspan></text>
<line x1="1268.8" x2="1268.8" y1="835" y2="844" stroke="#000" stroke-width="2"/>
<text transform="translate(1278.9,0) rotate(-90)" font-size="25" text-anchor="end"><tspan x="-889.32" textLength="49.22" lengthAdjust="spacingAndGlyphs">nov.</tspan><tspan x="-853.22" textLength="36.58" lengthAdjust="spacingAndGlyphs">-25</tspan></text>
<line x1="1309.2" x2="1309.2" y1="835" y2="844" stroke="#000" stroke-width="2"/>
<text transform="translate(1319.3,0) rotate(-90)" font-size="25" text-anchor="end"><tspan x="-889.32" textLength="54.56" lengthAdjust="spacingAndGlyphs">janv.</tspan><tspan x="-853.22" textLength="36.58" lengthAdjust="spacingAndGlyphs">-26</tspan></text>
<line x1="1348.2" x2="1348.2" y1="835" y2="844" stroke="#000" stroke-width="2"/>
<text transform="translate(1358.3,0) rotate(-90)" font-size="25" text-anchor="end"><tspan x="-891.12" textLength="54.72" lengthAdjust="spacingAndGlyphs">mars</tspan><tspan x="-853.22" textLength="36.58" lengthAdjust="spacingAndGlyphs">-26</tspan></text>
<text y="56.7" font-size="27.5"><tspan x="34.50" textLength="88.53" lengthAdjust="spacingAndGlyphs">Source</tspan> <tspan x="132.11">:</tspan> <tspan x="148.38" textLength="72.14" lengthAdjust="spacingAndGlyphs">DGEC</tspan></text>
<text y="54.4" font-size="29.4"><tspan x="350.78" textLength="78.44" lengthAdjust="spacingAndGlyphs">Cours</tspan> <tspan x="438.56" textLength="36.46" lengthAdjust="spacingAndGlyphs">du</tspan> <tspan x="482.88" textLength="136.73" lengthAdjust="spacingAndGlyphs" font-weight="bold" style="stroke:none">PETROLE</tspan> <tspan x="627.78" textLength="34.54" lengthAdjust="spacingAndGlyphs">en</tspan> <tspan x="671.04" textLength="100.78" lengthAdjust="spacingAndGlyphs">Europe</tspan> <tspan x="780.73">:</tspan> <tspan x="798.10" textLength="75.73" lengthAdjust="spacingAndGlyphs">Brent</tspan> <tspan x="883.50" textLength="34.33" lengthAdjust="spacingAndGlyphs">de</tspan> <tspan x="927.38" textLength="108.91" lengthAdjust="spacingAndGlyphs">Londres</tspan> <tspan x="1047.22" textLength="35.26" lengthAdjust="spacingAndGlyphs">en</tspan> <tspan x="1091.96" textLength="92.72" lengthAdjust="spacingAndGlyphs">$/baril</tspan></text>
<text y="98.5" font-size="29.4"><tspan x="383.32" textLength="122.85" lengthAdjust="spacingAndGlyphs">Dernière</tspan> <tspan x="514.94" textLength="117.03" lengthAdjust="spacingAndGlyphs">cotation</tspan> <tspan x="640.56" textLength="110.73" lengthAdjust="spacingAndGlyphs">affichée</tspan> <tspan x="761.00" textLength="34.20" lengthAdjust="spacingAndGlyphs">au</tspan> <tspan x="803.94" textLength="167.38" lengthAdjust="spacingAndGlyphs">27/03/2026</tspan> <tspan x="980.96">:</tspan> <tspan x="997.32" textLength="95.90" lengthAdjust="spacingAndGlyphs">121,47</tspan> <tspan x="1103.90" textLength="46.39" lengthAdjust="spacingAndGlyphs">$/b</tspan></text>
<line x1="315.7" y1="268.6" x2="364.1" y2="459.0" stroke="#777" stroke-width="1.7"/>
<line x1="396.2" y1="251.2" x2="563.0" y2="252.6" stroke="#777" stroke-width="1.7"/>
<line x1="158.6" y1="540.8" x2="111.4" y2="721.7" stroke="#777" stroke-width="1.7"/>
<line x1="1034.3" y1="688.7" x2="1155.3" y2="705.2" stroke="#777" stroke-width="1.7"/>
<rect x="105.7" y="162.0" width="264.4" height="97.9" fill="#fff" stroke="#757575" stroke-width="1.9"/>
<text y="202.6" font-size="26.6"><tspan x="127.08" textLength="84.64" lengthAdjust="spacingAndGlyphs">Guerre</tspan> <tspan x="218.08" textLength="29.76" lengthAdjust="spacingAndGlyphs">en</tspan> <tspan x="254.68" textLength="94.46" lengthAdjust="spacingAndGlyphs">Ukraine</tspan></text>
<text y="238.3" font-size="26.6"><tspan x="122.34" textLength="141.87" lengthAdjust="spacingAndGlyphs">24/02/2022</tspan> <tspan x="272.08">:</tspan> <tspan x="285.92" textLength="67.69" lengthAdjust="spacingAndGlyphs">98,56</tspan></text>
<rect x="563.0" y="227.9" width="281.3" height="47.1" fill="#fff" stroke="#757575" stroke-width="1.9"/>
<text y="260.6" font-size="26.6"><tspan x="579.66" textLength="141.70" lengthAdjust="spacingAndGlyphs">08/03/2022</tspan> <tspan x="730.45">:</tspan> <tspan x="744.10" textLength="81.79" lengthAdjust="spacingAndGlyphs">133,18</tspan></text>
<rect x="118.0" y="489.2" width="241.2" height="44.8" fill="#fff" stroke="#757575" stroke-width="1.9"/>
<text y="521.4" font-size="26.6"><tspan x="131.42" textLength="139.96" lengthAdjust="spacingAndGlyphs">18/01/2021</tspan> <tspan x="280.16">:</tspan> <tspan x="295.00" textLength="51.66" lengthAdjust="spacingAndGlyphs">54,8</tspan></text>
<rect x="768.4" y="668.8" width="266.0" height="42.4" fill="#fff" stroke="#757575" stroke-width="1.9"/>
<text y="698.9" font-size="26.6"><tspan x="786.24" textLength="141.86" lengthAdjust="spacingAndGlyphs">07/05/2025</tspan> <tspan x="936.56">:</tspan> <tspan x="950.50" textLength="66.34" lengthAdjust="spacingAndGlyphs">60,31</tspan></text>
<text y="758.9" font-size="25.0" font-weight="bold" style="fill:#2e75b6"><tspan x="311.34" textLength="127.13" lengthAdjust="spacingAndGlyphs">moyennes</tspan> <tspan x="448.76" textLength="135.38" lengthAdjust="spacingAndGlyphs">mensuelles</tspan></text>
<text y="758.9" font-size="25.0" font-weight="bold" style="fill:#c55a11"><tspan x="679.50" textLength="55.65" lengthAdjust="spacingAndGlyphs">suivi</tspan> <tspan x="743.06" textLength="118.48" lengthAdjust="spacingAndGlyphs">journalier</tspan></text>
</svg></body></html>
